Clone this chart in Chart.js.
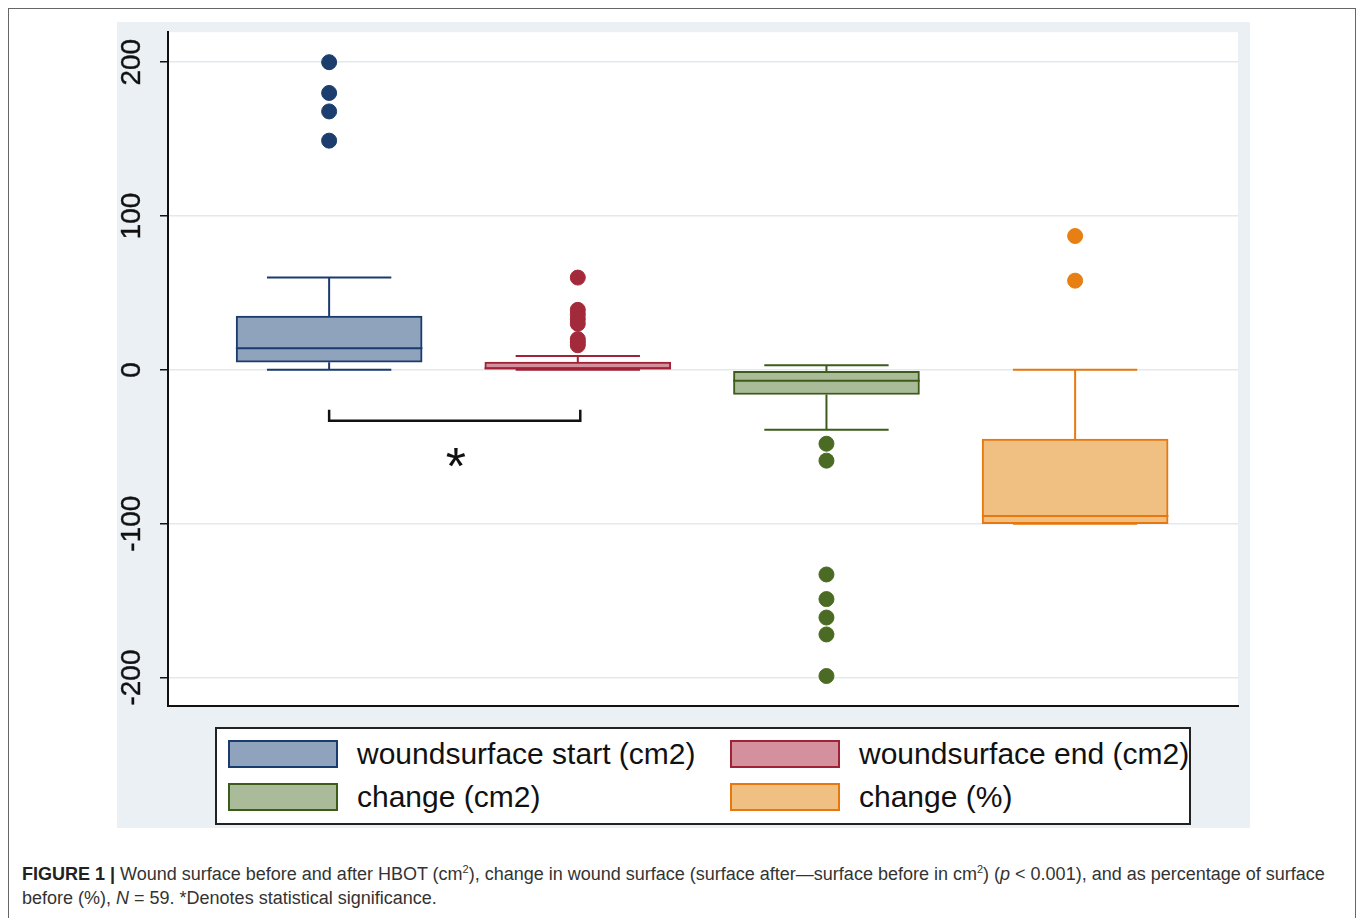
<!DOCTYPE html>
<html>
<head>
<meta charset="utf-8">
<script src="https://cdn.jsdelivr.net/npm/chart.js@4.4.1/dist/chart.umd.min.js"></script>
<style>
  html, body { margin: 0; padding: 0; background: #fff; }
  body { width: 1358px; height: 918px; position: relative; overflow: hidden; font-family: "Liberation Sans", Arial, sans-serif; }
  #frame { position: absolute; left: 8px; top: 8px; width: 1348px; height: 960px; border: 1.5px solid #666; box-sizing: border-box; }
  #panel { position: absolute; left: 117px; top: 22px; width: 1133px; height: 806px; background: #eaf0f4; }
  #legend { position: absolute; left: 215px; top: 727px; width: 976px; height: 98px; border: 2px solid #222; background: #fff; box-sizing: border-box; }
  .item { position: absolute; display: flex; align-items: center; height: 28px; }
  .swatch { width: 110px; height: 28px; border: 2px solid; box-sizing: border-box; flex: none; }
  .item span { margin-left: 19px; font-size: 30px; color: #111; white-space: nowrap; }
  #caption { position: absolute; left: 22px; top: 862px; font-size: 18px; line-height: 24px; color: #333; }
  #caption div { white-space: nowrap; }
  #caption b { color: #222; }
  #caption sup { font-size: 11px; line-height: 0; }
</style>
</head>
<body>
<div id="frame"></div>
<div id="panel"><canvas id="chart" width="1133" height="806"></canvas></div>
<div id="legend"></div>
<div id="caption">
  <div><b>FIGURE 1 |</b> Wound surface before and after HBOT (cm<sup>2</sup>), change in wound surface (surface after&#8212;surface before in cm<sup>2</sup>) (<i>p</i> &lt; 0.001), and as percentage of surface</div>
  <div>before (%), <i>N</i> = 59. *Denotes statistical significance.</div>
</div>
<script>
// series
const seriesLabels = ['woundsurface start (cm2)', 'woundsurface end (cm2)', 'change (cm2)', 'change (%)'];
const boxX = [1, 2, 3, 4];
const whiskerLow = [0, 0, -39, -100];
const q1 = [5, 0, -16, -100];
const median = [14, 1, -7, -95];
const q3 = [35, 5, -1, -45];
const whiskerHigh = [60, 9, 3, 0];
const outliers = [
    [200, 180, 168, 149],
    [60, 39, 36, 33, 30, 20, 18, 16],
    [-48, -59, -133, -149, -161, -172, -199],
    [87, 58]
];
const yTicks = [-200, -100, 0, 100, 200];

// significance bracket between the first two boxes
const bracketX = [1, 2.01];
const bracketY = [-26, -33];
const starPos = [1.51, -57];

const fillColors = ['#8fa3bc', '#d4909c', '#a9bb98', '#f0c083'];
const lineColors = ['#1a3b6e', '#a02236', '#3d5c1a', '#e8780e'];
const dotColors = ['#1b3e6e', '#a32a3b', '#4b6a24', '#e87f12'];

const BOX_HALF = 0.375;
const CAP_HALF = 0.25;

// html legend
const legendEl = document.getElementById('legend');
const legendPos = [[11, 11], [513, 11], [11, 54], [513, 54]];
seriesLabels.forEach((label, i) => {
    const item = document.createElement('div');
    item.className = 'item';
    item.style.left = legendPos[i][0] + 'px';
    item.style.top = legendPos[i][1] + 'px';
    item.innerHTML = `<div class="swatch" style="background:${fillColors[i]};border-color:${lineColors[i]}"></div><span>${label}</span>`;
    legendEl.appendChild(item);
});

function whiskerData(i) {
    const x = boxX[i];
    return [
        {x: x - CAP_HALF, y: whiskerHigh[i]}, {x: x + CAP_HALF, y: whiskerHigh[i]}, {x: x, y: null},
        {x: x, y: whiskerHigh[i]}, {x: x, y: q3[i]}, {x: x, y: null},
        {x: x, y: q1[i]}, {x: x, y: whiskerLow[i]}, {x: x, y: null},
        {x: x - CAP_HALF, y: whiskerLow[i]}, {x: x + CAP_HALF, y: whiskerLow[i]}, {x: x, y: null},
        {x: x - BOX_HALF, y: median[i]}, {x: x + BOX_HALF, y: median[i]}
    ];
}

const datasets = [];
datasets.push({
    type: 'bar',
    data: boxX.map((x, i) => ({x: x, y: [q1[i], q3[i]]})),
    backgroundColor: fillColors,
    borderColor: lineColors,
    borderWidth: 2,
    borderSkipped: false,
    barThickness: 186,
    order: 3
});
boxX.forEach((x, i) => {
    datasets.push({
        type: 'line',
        data: whiskerData(i),
        borderColor: lineColors[i],
        borderWidth: 2,
        pointRadius: 0,
        spanGaps: false,
        tension: 0,
        order: 2
    });
    datasets.push({
        type: 'scatter',
        data: outliers[i].map(v => ({x: x, y: v})),
        backgroundColor: dotColors[i],
        borderColor: dotColors[i],
        borderWidth: 1,
        pointRadius: 7.5,
        order: 1
    });
});
datasets.push({
    type: 'line',
    data: [
        {x: bracketX[0], y: bracketY[0]}, {x: bracketX[0], y: bracketY[1]},
        {x: bracketX[1], y: bracketY[1]}, {x: bracketX[1], y: bracketY[0]}
    ],
    borderColor: '#111',
    borderWidth: 2.5,
    pointRadius: 0,
    tension: 0,
    order: 1
});

const plotBackground = {
    id: 'plotBackground',
    beforeDraw(chart) {
        const {ctx, chartArea} = chart;
        ctx.save();
        ctx.fillStyle = '#ffffff';
        ctx.fillRect(chartArea.left, chartArea.top, chartArea.right - chartArea.left, chartArea.bottom - chartArea.top);
        ctx.restore();
    }
};

// rotated y labels (Stata style) and the asterisk
const textLayer = {
    id: 'textLayer',
    afterDraw(chart) {
        const {ctx, scales} = chart;
        ctx.save();
        ctx.fillStyle = '#111';
        ctx.strokeStyle = '#111';
        ctx.lineWidth = 0.4;
        ctx.font = '28px "Liberation Sans", Arial, sans-serif';
        ctx.textAlign = 'center';
        ctx.textBaseline = 'alphabetic';
        scales.y.ticks.forEach(t => {
            const py = scales.y.getPixelForValue(t.value);
            ctx.save();
            ctx.translate(23, py);
            ctx.rotate(-Math.PI / 2);
            ctx.fillText(String(t.value), 0, 0);
            ctx.strokeText(String(t.value), 0, 0);
            ctx.restore();
        });
        ctx.font = '52px "Liberation Sans", Arial, sans-serif';
        const m = ctx.measureText('*');
        const sx = scales.x.getPixelForValue(starPos[0]);
        const sy = scales.y.getPixelForValue(starPos[1]);
        ctx.fillText('*', sx, sy + (m.actualBoundingBoxAscent - m.actualBoundingBoxDescent) / 2);
        ctx.restore();
    }
};

new Chart(document.getElementById('chart'), {
    type: 'bar',
    data: { datasets: datasets },
    plugins: [plotBackground, textLayer],
    options: {
        responsive: false,
        animation: false,
        devicePixelRatio: 1,
        layout: { padding: { left: 0, top: 10, right: 12, bottom: 122 } },
        plugins: { legend: { display: false }, tooltip: { enabled: false } },
        scales: {
            x: {
                type: 'linear',
                min: 0.352,
                max: 4.655,
                offset: false,
                ticks: { display: false },
                grid: { display: false, drawTicks: false },
                border: { display: true, color: '#111', width: 2 },
                afterFit: s => { s.height = 0; }
            },
            y: {
                type: 'linear',
                min: -218.5,
                max: 219.5,
                ticks: { color: 'rgba(0,0,0,0)', includeBounds: false },
                afterBuildTicks: s => { s.ticks = yTicks.map(v => ({value: v})); },
                grid: { color: '#e4e9ed', lineWidth: 1.5, tickColor: '#111', tickLength: 8 },
                border: { display: true, color: '#111', width: 2 },
                afterFit: s => { s.width = 51; }
            }
        }
    }
});
</script>
</body>
</html>
